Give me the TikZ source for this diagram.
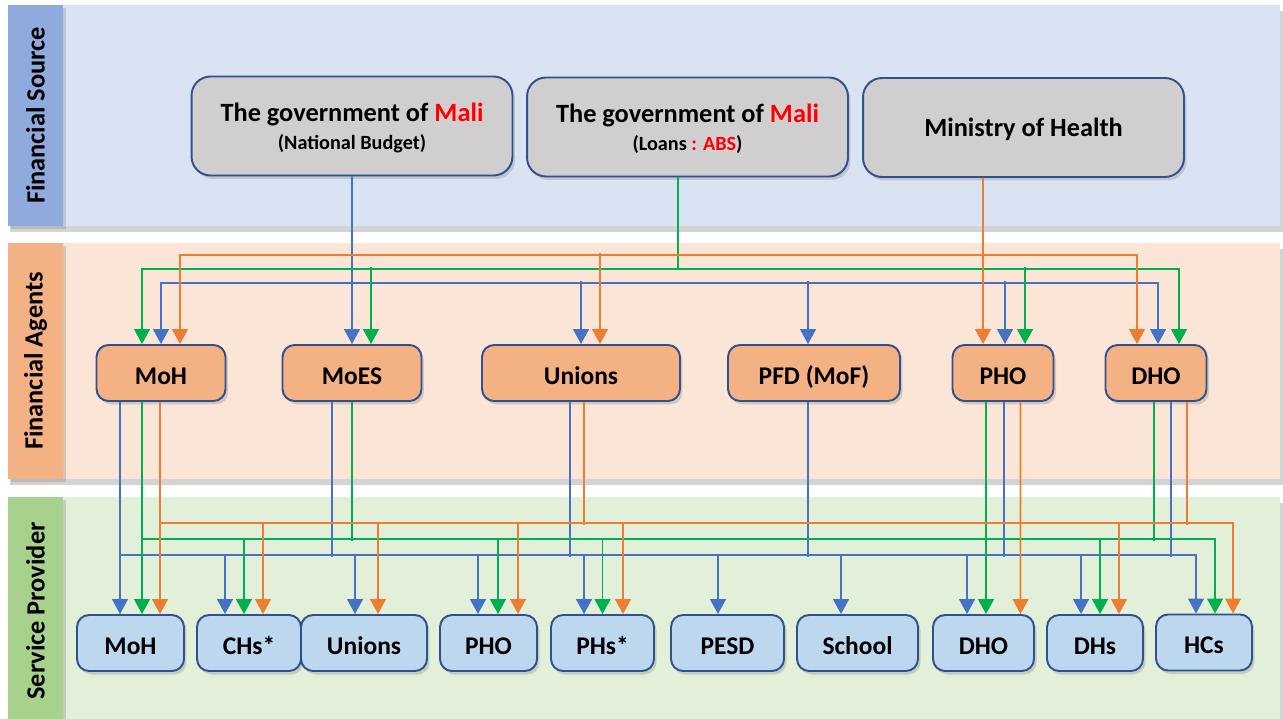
\documentclass[tikz,border=0pt]{standalone}
\usepackage{fontspec}
\setmainfont{Carlito}
\usetikzlibrary{arrows.meta,shadows}

\definecolor{srcband}{HTML}{DAE3F3}
\definecolor{srcstrip}{HTML}{8FAADC}
\definecolor{agtband}{HTML}{FBE5D6}
\definecolor{agtstrip}{HTML}{F4B183}
\definecolor{prvband}{HTML}{E2F0D9}
\definecolor{prvstrip}{HTML}{A9D18E}
\definecolor{boxgray}{HTML}{D0CECE}
\definecolor{boxorange}{HTML}{F4B183}
\definecolor{boxblue}{HTML}{BDD7EE}
\definecolor{edge}{HTML}{2F528F}
\definecolor{lblue}{HTML}{4472C4}
\definecolor{lgreen}{HTML}{00B050}
\definecolor{lorange}{HTML}{ED7D31}
\definecolor{malired}{HTML}{FF0000}

\begin{document}
\begin{tikzpicture}[x=0.02cm, y=-0.02cm,
	bandshadow/.style={drop shadow={shadow xshift=0.05cm, shadow yshift=-0.12cm, opacity=0.35}},
	boxshadow/.style={drop shadow={shadow xshift=0.05cm, shadow yshift=-0.07cm, opacity=0.3}},
	box/.style={draw=edge, line width=1.1pt, rounded corners=0.24cm, inner sep=0pt, minimum height=1.12cm, text height=12.7pt, text depth=0pt, font=\bfseries\fontsize{14.5}{17}\selectfont, boxshadow},
	src/.style={box, fill=boxgray, rounded corners=0.38cm, minimum width=6.42cm, minimum height=1.98cm, align=center, text height=, text depth=0pt, font=\bfseries\fontsize{15}{16}\selectfont},
	agent/.style={box, fill=boxorange},
	prov/.style={box, fill=boxblue},
	strip/.style={rotate=90, minimum height=1.1cm, inner sep=0pt, font=\bfseries\fontsize{15}{18}\selectfont, drop shadow={shadow xshift=0.06cm, shadow yshift=-0.06cm, opacity=0.3}},
	wire/.style={line width=1pt},
	bluewire/.style={wire, draw=lblue},
	greenwire/.style={wire, draw=lgreen},
	orangewire/.style={wire, draw=lorange},
	bluearrow/.style={bluewire, -{Triangle[width=9pt,length=8.5pt]}},
	greenarrow/.style={greenwire, -{Triangle[width=9pt,length=8.5pt]}},
	orangearrow/.style={orangewire, -{Triangle[width=9pt,length=8.5pt]}}]
	\useasboundingbox (0,0) rectangle (1283,719);

	% bands
	\fill[srcband, bandshadow] (8,5) rectangle (1280,226);
	\fill[agtband, bandshadow] (8,243) rectangle (1280,479);
	\fill[prvband, bandshadow] (8,497) rectangle (1280,725);
	\node[strip, fill=srcstrip, minimum width=4.42cm] (fsrc) at (35.5,115.5) {Financial Source};
	\node[strip, fill=agtstrip, minimum width=4.72cm] (fagt) at (35.5,361) {Financial Agents};
	\node[strip, fill=prvstrip, minimum width=4.56cm] (fprv) at (35.5,611) {Service Provider};

	\node[src] (govA) at (352,126) {The government of \textcolor{malired}{Mali}\\{\fontsize{11.5}{14}\selectfont (National Budget)}};
	\node[src] (govB) at (687.5,127) {The government of \textcolor{malired}{Mali}\\{\fontsize{11.5}{14}\selectfont (Loans \textcolor{malired}{: ABS})}};
	\node[src] (minH) at (1023.5,127.5) {Ministry of Health};

	\node[agent, minimum width=2.58cm] (aMoH) at (161,373) {MoH};
	\node[agent, minimum width=2.78cm] (aMoES) at (352,373) {MoES};
	\node[agent, minimum width=3.96cm] (aUnions) at (581,373) {Unions};
	\node[agent, minimum width=3.44cm] (aPFD) at (814,373) {PFD (MoF)};
	\node[agent, minimum width=2.02cm] (aPHO) at (1003,373) {PHO};
	\node[agent, minimum width=2.02cm] (aDHO) at (1156,373) {DHO};

	\node[prov, minimum width=2.14cm] (sMoH) at (130.5,643) {MoH};
	\node[prov, minimum width=2.08cm] (sCHs) at (249,643) {CHs*};
	\node[prov, minimum width=2.52cm] (sUnions) at (364,643) {Unions};
	\node[prov, minimum width=1.94cm] (sPHO) at (488.5,643) {PHO};
	\node[prov, minimum width=2.06cm] (sPHs) at (602.5,643) {PHs*};
	\node[prov, minimum width=2.26cm] (sPESD) at (727.5,643) {PESD};
	\node[prov, minimum width=2.42cm] (sSchool) at (857.5,643) {School};
	\node[prov, minimum width=2.02cm] (sDHO) at (983.5,643) {DHO};
	\node[prov, minimum width=1.92cm] (sDHs) at (1095,643) {DHs};
	\node[prov, minimum width=1.92cm] (sHCs) at (1204,642.5) {HCs};

	% sources to agents
	\draw[bluearrow] (govA) -- (aMoES);
	\draw[bluearrow] (govA.south) ++(0,106.5) -| (aMoH);
	\draw[bluearrow] (govA.south) ++(0,106.5) -| ([xshift=0.04cm]aDHO.north);
	\draw[bluearrow] (aUnions.north) ++(0,-63) -- (aUnions.north);
	\draw[bluearrow] ([xshift=-0.12cm]aPFD.north) ++(0,-63) -- ++(0,63);
	\draw[bluearrow] ([xshift=0.04cm]aPHO.north) ++(0,-63) -- ++(0,63);

	\draw[greenwire] ([xshift=-0.19cm]govB.south) -- ++(0,91.5);
	\draw[greenarrow] ([xshift=-0.19cm]govB.south) ++(0,91.5) -| ([xshift=-0.38cm]aMoH.north);
	\draw[greenarrow] ([xshift=-0.19cm]govB.south) ++(0,91.5) -| ([xshift=0.46cm]aDHO.north);
	\draw[greenarrow] ([xshift=0.38cm]aMoES.north) ++(0,-77) -- ++(0,77);
	\draw[greenarrow] ([xshift=0.44cm]aPHO.north) ++(0,-77) -- ++(0,77);

	\draw[orangearrow] ([xshift=-0.81cm]minH.south) -- ([xshift=-0.4cm]aPHO.north);
	\draw[orangearrow] ([xshift=-0.81cm]minH.south) ++(0,77) -| ([xshift=0.38cm]aMoH.north);
	\draw[orangearrow] ([xshift=-0.81cm]minH.south) ++(0,77) -| ([xshift=-0.38cm]aDHO.north);
	\draw[orangearrow] ([xshift=0.38cm]aUnions.north) ++(0,-91) -- ++(0,91);

	% agents to providers
	\draw[bluearrow] ([xshift=-0.82cm]aMoH.south) -- ([xshift=-0.21cm]sMoH.north);
	\draw[bluearrow] ([xshift=-0.21cm]sMoH.north) ++(0,-59) -| ([xshift=-0.16cm]sHCs.north);
	\draw[bluewire] ([xshift=-0.4cm]aMoES.south) -- ++(0,155);
	\draw[bluewire] ([xshift=-0.22cm]aUnions.south) -- ++(0,155);
	\draw[bluewire] ([xshift=-0.12cm]aPFD.south) -- ++(0,155);
	\draw[bluewire] ([xshift=0.02cm]aPHO.south) -- ++(0,155);
	\draw[bluewire] ([xshift=0.3cm]aDHO.south) -- ++(0,155);
	\draw[bluearrow] ([xshift=-0.48cm]sCHs.north) ++(0,-59) -- ++(0,59);
	\draw[bluearrow] ([xshift=-0.18cm]sUnions.north) ++(0,-59) -- ++(0,59);
	\draw[bluearrow] ([xshift=-0.21cm]sPHO.north) ++(0,-59) -- ++(0,59);
	\draw[bluearrow] ([xshift=-0.37cm]sPHs.north) ++(0,-59) -- ++(0,59);
	\draw[bluearrow] ([xshift=-0.19cm]sPESD.north) ++(0,-59) -- ++(0,59);
	\draw[bluearrow] ([xshift=-0.33cm]sSchool.north) ++(0,-59) -- ++(0,59);
	\draw[bluearrow] ([xshift=-0.33cm]sDHO.north) ++(0,-59) -- ++(0,59);
	\draw[bluearrow] ([xshift=-0.28cm]sDHs.north) ++(0,-59) -- ++(0,59);

	\draw[greenarrow] ([xshift=-0.38cm]aMoH.south) -- ([xshift=0.23cm]sMoH.north);
	\draw[greenarrow] ([xshift=0.23cm]sMoH.north) ++(0,-75) -| ([xshift=0.22cm]sHCs.north);
	\draw[greenwire] (aMoES.south) -- ++(0,139);
	\draw[greenwire] ([xshift=-0.04cm]aDHO.south) -- ++(0,139);
	\draw[greenarrow] ([xshift=-0.34cm]aPHO.south) -- ([xshift=0.05cm]sDHO.north);
	\draw[greenarrow] ([xshift=-0.1cm]sCHs.north) ++(0,-75) -- ++(0,75);
	\draw[greenarrow] ([xshift=0.19cm]sPHO.north) ++(0,-75) -- ++(0,75);
	\draw[greenarrow] (sPHs.north) ++(0,-75) -- ++(0,75);
	\draw[greenarrow] ([xshift=0.1cm]sDHs.north) ++(0,-75) -- ++(0,75);

	\draw[orangearrow] ([xshift=-0.02cm]aMoH.south) -- ([xshift=0.59cm]sMoH.north);
	\draw[orangearrow] ([xshift=0.59cm]sMoH.north) ++(0,-91) -| ([xshift=0.58cm]sHCs.north);
	\draw[orangewire] ([xshift=0.06cm]aUnions.south) -- ++(0,123);
	\draw[orangewire] ([xshift=0.62cm]aDHO.south) -- ++(0,123);
	\draw[orangearrow] ([xshift=0.35cm]aPHO.south) -- ([xshift=0.74cm]sDHO.north);
	\draw[orangearrow] ([xshift=0.28cm]sCHs.north) ++(0,-91) -- ++(0,91);
	\draw[orangearrow] ([xshift=0.28cm]sUnions.north) ++(0,-91) -- ++(0,91);
	\draw[orangearrow] ([xshift=0.59cm]sPHO.north) ++(0,-91) -- ++(0,91);
	\draw[orangearrow] ([xshift=0.41cm]sPHs.north) ++(0,-91) -- ++(0,91);
	\draw[orangearrow] ([xshift=0.48cm]sDHs.north) ++(0,-91) -- ++(0,91);
\end{tikzpicture}
\end{document}
